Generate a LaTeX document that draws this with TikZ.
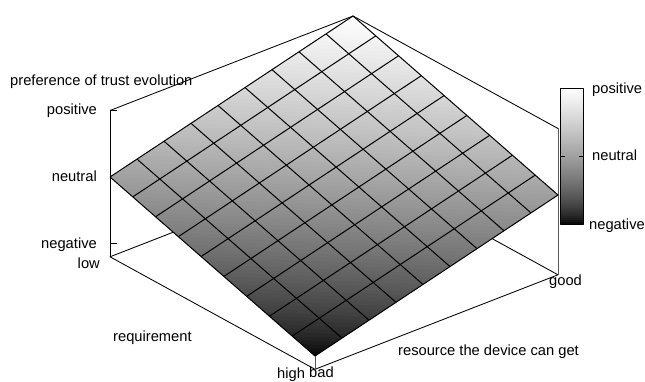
\documentclass[tikz,border=0pt]{standalone}
\usepackage{fontspec}
\setmainfont{Liberation Sans}
\begin{document}
\begin{tikzpicture}[x=1pt,y=-1pt,line join=round,
  lbl/.style={font=\fontsize{14.7}{17}\selectfont, inner sep=0pt, text=black},
  boxline/.style={black, line width=0.85pt},
  hidline/.style={black!65, line width=0.85pt},
  gridline/.style={black, line width=1pt},
  tickline/.style={black, line width=0.85pt}]
\useasboundingbox (0,0) rectangle (645,382);

% ---------- 3D part ----------
\begin{scope}[shift={(110,177)}, x={(205pt,-112.5pt)}, y={(243pt,94.5pt)}, z={(0pt,66.5pt)}]
  % box corners
  \coordinate (Lb) at (0,0,-1.2);
  \coordinate (Fb) at (1,0,-1.2);
  \coordinate (Rb) at (1,1,-1.2);
  \coordinate (Bb) at (0,1,-1.2);
  \coordinate (Lt) at (0,0,1);
  \coordinate (Rt) at (1,1,1);
  \coordinate (Bt) at (0,1,1);
  % surface corners
  \coordinate (SL) at (0,0,0);
  \coordinate (SF) at (1,0,-1);
  \coordinate (SR) at (1,1,0);
  \coordinate (SB) at (0,1,1);
  % base of the box
  \draw[boxline] (Lb) -- (Fb) -- (Rb) -- (Bb) -- cycle;
  % z axis with ticks
  \draw[boxline] (Lb) -- (Lt);
  \foreach \zz in {-1,0,1} { \draw[tickline] (0,0,\zz) -- ++(7pt,0pt); }
  % top edges
  \draw[boxline] (Lt) -- (Bt) -- (Rt);
  % hidden-ish verticals
  \draw[hidline] (Rb) -- (Rt);
  \draw[hidline] (Fb) -- (SF);
  % shaded surface
  \begin{scope}
    \clip (SL) -- (SF) -- (SR) -- (SB) -- cycle;
    \foreach \k in {0,...,89} {
      \pgfmathsetmacro\fa{-1+2*\k/90}
      \pgfmathsetmacro\fb{-1+2*(\k+1.6)/90}
      \pgfmathsetmacro\fm{-1+2*(\k+0.5)/90}
      \pgfmathsetmacro\g{exp(ln((\fm+1)/2)*2/3)}
      \definecolor{bandc}{gray}{\g}
      \fill[bandc] (-0.2,-0.2+\fa,\fa) -- (1.2,1.2+\fa,\fa) -- (1.2,1.2+\fb,\fb) -- (-0.2,-0.2+\fb,\fb) -- cycle;
    }
  \end{scope}
  % grid
  \foreach \i in {0,...,9} {
    \draw[gridline] (\i/9,0,-\i/9) -- (\i/9,1,1-\i/9);
    \draw[gridline] (0,\i/9,\i/9) -- (1,\i/9,\i/9-1);
  }
\end{scope}

% ---------- colour box ----------
\foreach \k in {0,...,67} {
  \pgfmathsetmacro\ya{224-\k*2}
  \pgfmathsetmacro\yb{224-(\k+1.6)*2}
  \pgfmathsetmacro\g{exp(ln((\k+0.5)/68)*2/3)}
  \definecolor{barc}{gray}{\g}
  \fill[barc] (560,\ya) rectangle (583,\yb);
}
\node[draw, line width=0.85pt, inner sep=0pt, minimum width=23pt, minimum height=136pt, anchor=north west] (cbar) at (560,88) {};
\draw[tickline] (cbar.west |- 0,156) -- ++(5,0);
\draw[tickline] (cbar.east |- 0,156) -- ++(-5,0);

% ---------- labels ----------
\node[lbl, anchor=base west] (title) at (10,86) {preference of trust evolution};
\node[lbl, anchor=base east] (zpos) at (97,115) {positive};
\node[lbl, anchor=base east] (zneu) at (97,182) {neutral};
\node[lbl, anchor=base east] (zneg) at (97,248) {negative};
\node[lbl, anchor=base east] (qlow) at (100,268.5) {low};
\node[lbl, anchor=base west] (qlab) at (113,341) {requirement};
\node[lbl, anchor=base west] (qhigh) at (277,378.3) {high};
\node[lbl, anchor=base west] (rbad) at (309,377.5) {bad};
\node[lbl, anchor=base west] (rgood) at (549,285.5) {good};
\node[lbl, anchor=base west] (rlab) at (398,355.5) {resource the device can get};
\node[lbl, anchor=base west] (cpos) at (592,93.5) {positive};
\node[lbl, anchor=base west] (cneu) at (592,160.5) {neutral};
\node[lbl, anchor=base west] (cneg) at (589,229.5) {negative};
\end{tikzpicture}
\end{document}
